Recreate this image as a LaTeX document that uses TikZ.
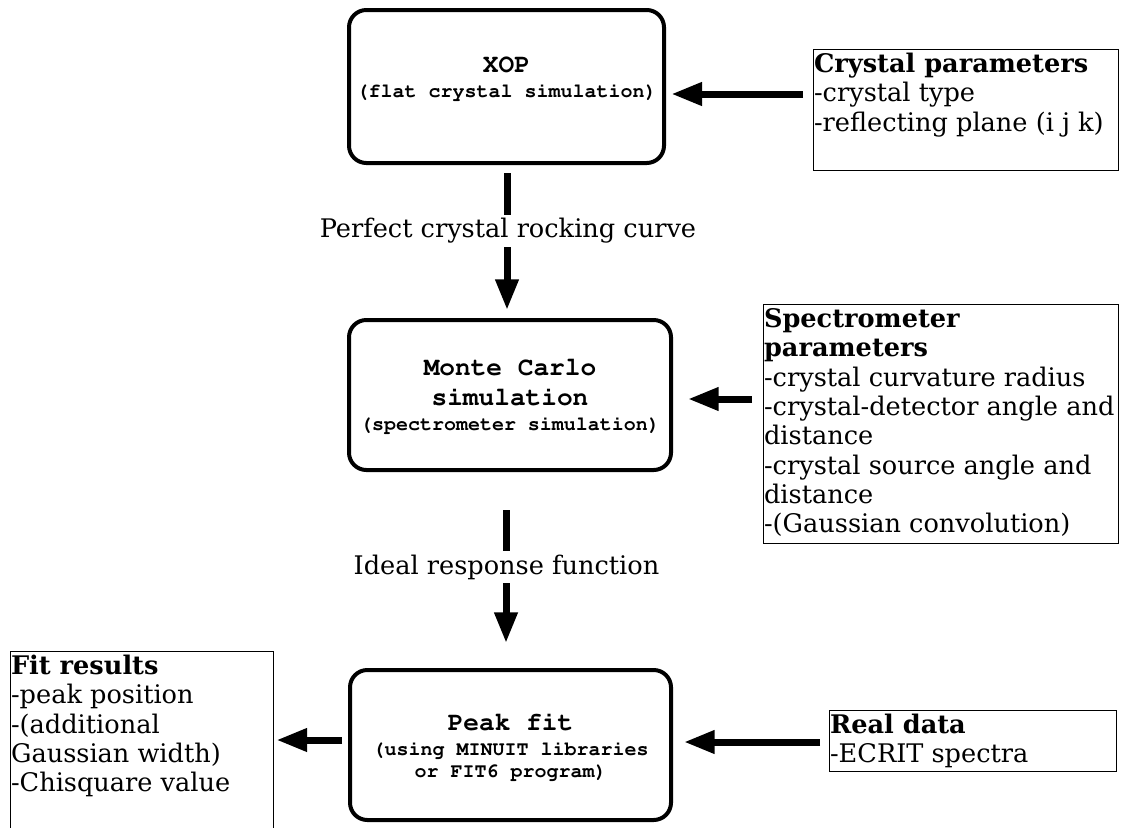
\documentclass[tikz,border=0pt]{standalone}
\usepackage[T1]{fontenc}
\usepackage{fontspec}
\setmainfont{DejaVu Serif}
\usetikzlibrary{arrows.meta}
\newcommand{\courierbf}{\fontencoding{T1}\fontfamily{pcr}\fontseries{b}\selectfont}
\newcommand{\subt}{\fontsize{15pt}{17pt}\selectfont}
\newcommand{\fstrut}{\rule{0pt}{17.5pt}}
\tikzset{
  procbox/.style={draw, line width=3pt, rounded corners=13pt, inner sep=0pt},
  proctext/.style={align=center, inner sep=0pt, font=\courierbf\fontsize{19.6pt}{22.5pt}\selectfont},
  parambox/.style={draw, line width=1.1pt, anchor=north west, inner sep=0pt},
  paramtext/.style={align=left, anchor=north west, inner xsep=0.6pt, inner ysep=0pt, font=\fontsize{19.2pt}{22pt}\selectfont},
  flowarrow/.style={line width=5.25pt, -{Triangle[length=23pt,width=16.5pt]}},
  flowlabel/.style={fill=white, inner xsep=2pt, inner ysep=2.5pt, font=\fontsize{19.2pt}{22pt}\selectfont},
}
\begin{document}
\begin{tikzpicture}[x=0.75pt,y=-0.75pt]
\clip (0,0) rectangle (1121,828);
\fill[white] (0,0) rectangle (1121,828);

% process boxes
\node[procbox, minimum width=236.25pt, minimum height=114.75pt] (xop) at (506.5,86.5) {};
\node[proctext] (xoptxt) at (506.5,79) {XOP\\[-3.75pt]{\subt (flat crystal simulation)}};

\node[procbox, minimum width=241.5pt, minimum height=112.5pt] (mc) at (510,395) {};
\node[proctext] (mctxt) at (510,396.5) {Monte Carlo\\simulation\\[-3.75pt]{\subt (spectrometer simulation)}};

\node[procbox, minimum width=240.75pt, minimum height=112.5pt] (pf) at (510.5,745) {};
\node[proctext] (pftxt) at (510.5,747) {Peak fit\\[-3.75pt]{\subt (using MINUIT libraries}\\[-6pt]{\subt or FIT6 program)}};

% parameter boxes
\node[parambox, minimum width=228.75pt, minimum height=90.75pt] (crys) at (813,49) {};
\node[paramtext] (crystxt) at (crys.north west) {\fstrut\textbf{Crystal parameters}\\-crystal type\\-reflecting plane (i j k)};

\node[parambox, minimum width=266.25pt, minimum height=179.25pt] (spec) at (763,304) {};
\node[paramtext] (spectxt) at (spec.north west) {\fstrut\textbf{Spectrometer}\\\textbf{parameters}\\-crystal curvature radius\\-crystal-detector angle and\\distance\\-crystal source angle and\\distance\\-(Gaussian convolution)};

\node[parambox, minimum width=215.25pt, minimum height=45.75pt] (real) at (829,710) {};
\node[paramtext] (realtxt) at (real.north west) {\fstrut\textbf{Real data}\\-ECRIT spectra};

\node[parambox, minimum width=197.25pt, minimum height=150pt] (fit) at (10,651) {};
\node[paramtext] (fittxt) at (fit.north west) {\fstrut\textbf{Fit results}\\-peak position\\-(additional\\Gaussian width)\\-Chisquare value};

% connectors
\draw[flowarrow, shorten <=7.5pt, shorten >=4pt] (crys.west |- 0,94) -- (xop.east |- 0,94);
\draw[flowarrow, shorten <=6pt, shorten >=6pt] (xop.south -| 507,0) -- (mc.north -| 507,0);
\node[flowlabel] (lab1) at (508,231) {Perfect crystal rocking curve};
\draw[flowarrow, shorten <=28.5pt, shorten >=18.75pt] (mc.south -| 506,0) -- (pf.north -| 506,0);
\node[flowlabel] (lab2) at (506.5,567) {Ideal response function};
\draw[flowarrow, shorten <=8.25pt, shorten >=11.25pt] (spec.west |- 0,399) -- (mc.east |- 0,399);
\draw[flowarrow, shorten <=6.75pt, shorten >=8.25pt] (real.west |- 0,742) -- (pf.east |- 0,742);
\draw[flowarrow, shorten <=4.5pt, shorten >=1.5pt] (pf.west |- 0,740) -- (fit.east |- 0,740);
\end{tikzpicture}
\end{document}
